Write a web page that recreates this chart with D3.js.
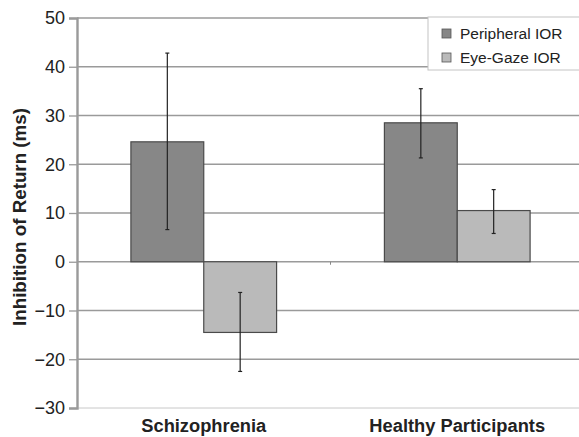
<!DOCTYPE html>
<html>
<head>
<meta charset="utf-8">
<script src="https://cdn.jsdelivr.net/npm/d3@7"></script>
<style>
  html, body { margin: 0; padding: 0; background: #fff; }
  svg { display: block; font-family: "Liberation Sans", Arial, sans-serif; }
</style>
</head>
<body>
<svg id="chart" width="579" height="437"></svg>
<script>
// ── Data ─────────────────────────────────────────────────────────────
const groups = ["Schizophrenia", "Healthy Participants"];
const seriesNames = ["Peripheral IOR", "Eye-Gaze IOR"];
const peripheral = [24.6, 28.5];
const peripheralLow = [6.6, 21.3];
const peripheralHigh = [42.8, 35.5];
const eyeGaze = [-14.5, 10.5];
const eyeGazeLow = [-22.5, 5.8];
const eyeGazeHigh = [-6.3, 14.8];
const yTicks = [50, 40, 30, 20, 10, 0, -10, -20, -30];

const seriesColors = ["#878787", "#bababa"];

const svg = d3.select("#chart");
const margin = { left: 77, top: 18, right: -5, bottom: 29 };
const width = 579, height = 437;

const x = d3.scaleBand().domain(groups)
  .range([margin.left, width - margin.right]).paddingInner(0).paddingOuter(0);
const xs = d3.scaleBand().domain(seriesNames)
  .range([0, x.bandwidth()]).paddingInner(0).paddingOuter(0.74);
const y = d3.scaleLinear().domain([-30, 50]).range([height - margin.bottom, margin.top]);

// gridlines
svg.append("g").selectAll("line").data(yTicks).join("line")
  .attr("x1", margin.left).attr("x2", width)
  .attr("y1", d => y(d)).attr("y2", d => y(d))
  .attr("stroke", d => d === -30 ? "#c8c8c8" : "#9a9a9a")
  .attr("stroke-width", d => d === -30 ? 1 : 1.3);

// y axis
const yAxis = svg.append("g").attr("transform", `translate(${margin.left},0)`)
  .call(d3.axisLeft(y).tickValues(yTicks).tickSize(8).tickFormat(d => d < 0 ? "\u2212" + Math.abs(d) : d));
yAxis.select(".domain").attr("stroke", "#9a9a9a").attr("stroke-width", 2.4);
yAxis.selectAll(".tick line").attr("stroke", "#9a9a9a").attr("stroke-width", 1.3);
yAxis.selectAll(".tick text").attr("fill", "#222").attr("font-size", 18)
  .attr("font-family", "Liberation Sans, Arial, sans-serif").attr("x", -12);

// bars
const rows = groups.map((g, i) => [
  { g, s: seriesNames[0], v: peripheral[i], lo: peripheralLow[i], hi: peripheralHigh[i], c: seriesColors[0] },
  { g, s: seriesNames[1], v: eyeGaze[i], lo: eyeGazeLow[i], hi: eyeGazeHigh[i], c: seriesColors[1] }
]).flat();

svg.append("g").selectAll("rect").data(rows).join("rect")
  .attr("x", d => x(d.g) + xs(d.s))
  .attr("width", xs.bandwidth())
  .attr("y", d => y(Math.max(0, d.v)))
  .attr("height", d => Math.abs(y(d.v) - y(0)))
  .attr("fill", d => d.c)
  .attr("stroke", "#4a4a4a").attr("stroke-width", 1.2);

// error bars
const eb = svg.append("g").attr("stroke", "#222").attr("stroke-width", 1.2);
rows.forEach(d => {
  const cx = x(d.g) + xs(d.s) + xs.bandwidth() / 2;
  eb.append("line").attr("x1", cx).attr("x2", cx).attr("y1", y(d.lo)).attr("y2", y(d.hi));
  eb.append("line").attr("x1", cx - 2).attr("x2", cx + 2).attr("y1", y(d.lo)).attr("y2", y(d.lo));
  eb.append("line").attr("x1", cx - 2).attr("x2", cx + 2).attr("y1", y(d.hi)).attr("y2", y(d.hi));
});

// small category tick at zero between groups
svg.append("line")
  .attr("x1", x(groups[1])).attr("x2", x(groups[1]))
  .attr("y1", y(0)).attr("y2", y(0) + 3)
  .attr("stroke", "#888").attr("stroke-width", 1);

// x labels
svg.append("g").selectAll("text").data(groups).join("text")
  .attr("x", d => x(d) + x.bandwidth() / 2)
  .attr("y", height - 5)
  .attr("text-anchor", "middle")
  .attr("font-weight", "bold").attr("font-size", 18.3).attr("fill", "#222")
  .text(d => d);

// y title
svg.append("text")
  .attr("transform", `translate(26,217) rotate(-90)`)
  .attr("text-anchor", "middle")
  .attr("font-weight", "bold").attr("font-size", 18.8).attr("fill", "#222")
  .text("Inhibition of Return (ms)");

// legend
const lg = svg.append("g").attr("transform", "translate(428,17)");
lg.append("rect").attr("width", 160).attr("height", 53)
  .attr("fill", "#fff").attr("stroke", "#c4c4c4").attr("stroke-width", 1);
seriesNames.forEach((s, i) => {
  lg.append("rect").attr("x", 14).attr("y", 12 + i * 24).attr("width", 9).attr("height", 9)
    .attr("fill", seriesColors[i]).attr("stroke", "#555").attr("stroke-width", 0.8);
  lg.append("text").attr("x", 32).attr("y", 22 + i * 24)
    .attr("font-size", 15.5).attr("fill", "#222").text(s);
});
</script>
</body>
</html>
